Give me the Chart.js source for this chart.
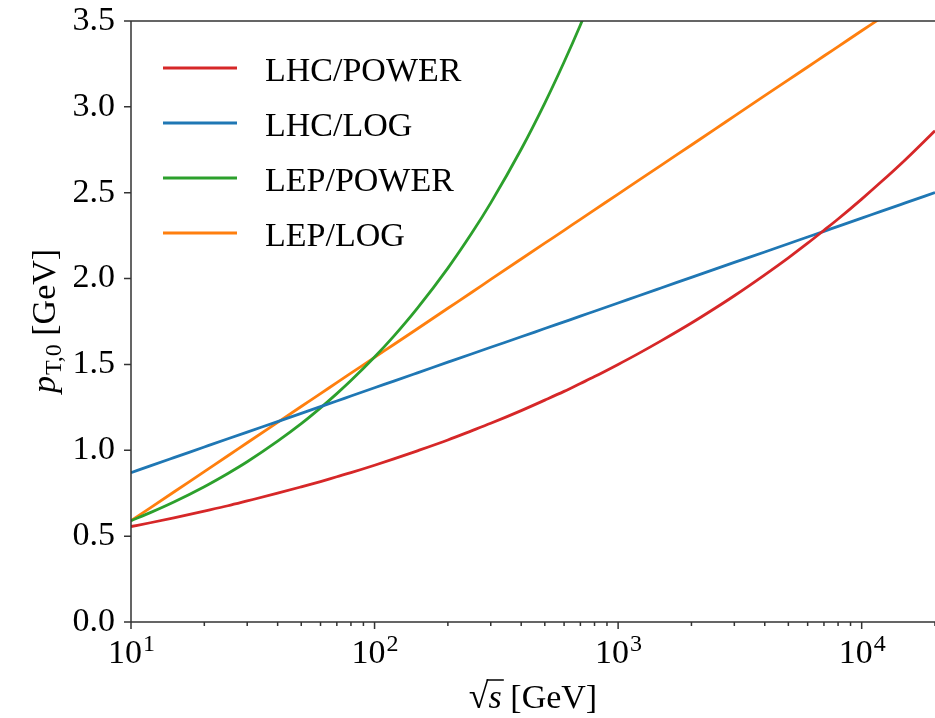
<!DOCTYPE html>
<html>
<head>
<meta charset="utf-8">
<script src="https://cdn.jsdelivr.net/npm/chart.js@4.4.1/dist/chart.umd.min.js"></script>
<style>
  html, body { margin: 0; padding: 0; background: #fff; }
</style>
</head>
<body>
<canvas id="myCanvas" width="935" height="718"></canvas>
<script>
// sqrt(s) in GeV
const energies = [10, 12, 15, 20, 25, 30, 40, 50, 60, 70, 80, 100, 120, 150, 200, 250, 300, 400, 500, 600, 700, 800,
  1000, 1200, 1500, 2000, 2500, 3000, 4000, 5000, 6000, 7000, 8000, 10000, 12000, 15000, 20000];
// p_T,0 in GeV
const lhcPower = [0.556, 0.578, 0.607, 0.646, 0.677, 0.705, 0.750, 0.787, 0.818, 0.846, 0.870, 0.913, 0.950, 0.997, 1.060, 1.113, 1.157, 1.231, 1.292, 1.343, 1.389, 1.429,
  1.500, 1.560, 1.637, 1.741, 1.827, 1.900, 2.022, 2.121, 2.206, 2.281, 2.347, 2.463, 2.562, 2.688, 2.861];
const lhcLog = [0.870, 0.909, 0.957, 1.019, 1.067, 1.106, 1.167, 1.215, 1.254, 1.287, 1.316, 1.364, 1.403, 1.451, 1.513, 1.561, 1.600, 1.661, 1.709, 1.748, 1.781, 1.810,
  1.858, 1.897, 1.945, 2.007, 2.055, 2.094, 2.155, 2.203, 2.242, 2.275, 2.304, 2.352, 2.391, 2.439, 2.501];
const lepPower = [0.590, 0.637, 0.699, 0.788, 0.865, 0.933, 1.053, 1.155, 1.247, 1.330, 1.406, 1.543, 1.665, 1.828, 2.061, 2.262, 2.441, 2.753, 3.022, 3.261, 3.477, 3.676];
const lepLog = [0.590, 0.665, 0.757, 0.876, 0.968, 1.044, 1.163, 1.255, 1.330, 1.394, 1.449, 1.541, 1.616, 1.708, 1.827, 1.919, 1.995, 2.114, 2.206, 2.281, 2.345, 2.400,
  2.492, 2.567, 2.659, 2.778, 2.870, 2.946, 3.065, 3.157, 3.232, 3.296, 3.351, 3.443, 3.518, 3.610, 3.729];

const seriesNames = ["LHC/POWER", "LHC/LOG", "LEP/POWER", "LEP/LOG"];
const seriesColors = ["#d62728", "#1f77b4", "#2ca02c", "#ff7f0e"];
const yTicks = [0, 0.5, 1, 1.5, 2, 2.5, 3, 3.5];
const xDecades = [10, 100, 1000, 10000];
const xMin = 10, xMax = 20000;

const serif = '"Liberation Serif", "DejaVu Serif", serif';

function pts(vals) {
  return vals.map((v, i) => ({ x: energies[i], y: v }));
}

// legend, spines, tick marks, x tick labels and axis titles
const decoPlugin = {
  id: 'deco',
  afterDraw(chart) {
    const ctx = chart.ctx, a = chart.chartArea;
    const xs = chart.scales.x, ys = chart.scales.y;
    ctx.save();
    ctx.strokeStyle = '#333';
    ctx.lineWidth = 1.5;
    ctx.beginPath();
    ctx.moveTo(a.left, a.top); ctx.lineTo(a.right, a.top);
    ctx.moveTo(a.left, a.top); ctx.lineTo(a.left, a.bottom);
    ctx.moveTo(a.left, a.bottom); ctx.lineTo(a.right, a.bottom);
    yTicks.forEach(v => {
      const py = ys.getPixelForValue(v);
      ctx.moveTo(a.left - 7, py); ctx.lineTo(a.left, py);
    });
    xDecades.forEach(d => {
      for (let m = 1; m <= 9; m++) {
        const v = d * m;
        if (v > xMax) break;
        const px = xs.getPixelForValue(v);
        ctx.moveTo(px, a.bottom); ctx.lineTo(px, a.bottom + (m === 1 ? 7 : 4));
      }
    });
    ctx.stroke();

    // x tick labels 10^n
    ctx.fillStyle = '#000';
    ctx.textBaseline = 'alphabetic';
    ctx.textAlign = 'left';
    xDecades.forEach(d => {
      const px = xs.getPixelForValue(d);
      const ex = String(Math.round(Math.log10(d)));
      ctx.font = '34px ' + serif;
      const w1 = ctx.measureText('10').width;
      ctx.font = '24px ' + serif;
      const w2 = ctx.measureText(ex).width;
      const x0 = px - (w1 + w2) / 2;
      ctx.font = '34px ' + serif;
      ctx.fillText('10', x0, 663);
      ctx.font = '24px ' + serif;
      ctx.fillText(ex, x0 + w1 + 1, 651);
    });

    // x axis title: sqrt(s) [GeV]
    const cx = (a.left + a.right) / 2;
    ctx.font = '36px ' + serif;
    const wr = ctx.measureText('\u221A').width;
    ctx.font = 'italic 34px ' + serif;
    const ws = ctx.measureText('s').width;
    ctx.font = '34px ' + serif;
    const wg = ctx.measureText(' [GeV]').width;
    let x0 = cx - (wr + ws + wg) / 2;
    const base = 708;
    ctx.font = '36px ' + serif;
    ctx.fillText('\u221A', x0, base);
    ctx.font = 'italic 34px ' + serif;
    ctx.fillText('s', x0 + wr, base);
    ctx.lineWidth = 1.5;
    ctx.strokeStyle = '#000';
    ctx.beginPath();
    ctx.moveTo(x0 + wr - 2, base - 28);
    ctx.lineTo(x0 + wr + ws + 2, base - 28);
    ctx.stroke();
    ctx.font = '34px ' + serif;
    ctx.fillText(' [GeV]', x0 + wr + ws, base);

    // y axis title: p_T,0 [GeV]
    ctx.save();
    ctx.translate(55, (a.top + a.bottom) / 2);
    ctx.rotate(-Math.PI / 2);
    ctx.font = 'italic 34px ' + serif;
    const wp = ctx.measureText('p').width;
    ctx.font = '24px ' + serif;
    const wsub = ctx.measureText('T,0').width;
    ctx.font = '34px ' + serif;
    const wu = ctx.measureText(' [GeV]').width;
    let t0 = -(wp + wsub + wu) / 2;
    ctx.font = 'italic 34px ' + serif;
    ctx.fillText('p', t0, 0);
    ctx.font = '24px ' + serif;
    ctx.fillText('T,0', t0 + wp + 1, 6);
    ctx.font = '34px ' + serif;
    ctx.fillText(' [GeV]', t0 + wp + wsub + 1, 0);
    ctx.restore();

    // legend
    chart.data.datasets.forEach((ds, i) => {
      const ly = a.top + 47 + 55 * i;
      ctx.strokeStyle = ds.borderColor;
      ctx.lineWidth = 2.8;
      ctx.beginPath();
      ctx.moveTo(a.left + 32, ly);
      ctx.lineTo(a.left + 106, ly);
      ctx.stroke();
      ctx.fillStyle = '#000';
      ctx.font = '34px ' + serif;
      ctx.fillText(ds.label, a.left + 134, ly + 13);
    });
    ctx.restore();
  }
};

const e = document.getElementById("myCanvas").getContext("2d");
new Chart(e, {
  type: "line",
  data: {
    datasets: [
      { label: seriesNames[0], data: pts(lhcPower), borderColor: seriesColors[0] },
      { label: seriesNames[1], data: pts(lhcLog), borderColor: seriesColors[1] },
      { label: seriesNames[2], data: pts(lepPower), borderColor: seriesColors[2] },
      { label: seriesNames[3], data: pts(lepLog), borderColor: seriesColors[3] }
    ]
  },
  options: {
    responsive: false,
    animation: false,
    elements: {
      line: { borderWidth: 2.8, cubicInterpolationMode: 'monotone', fill: false },
      point: { radius: 0, hoverRadius: 0 }
    },
    layout: { padding: { top: 21, right: 0, left: 0, bottom: 0 } },
    plugins: {
      legend: { display: false },
      tooltip: { enabled: false }
    },
    scales: {
      x: {
        type: "logarithmic",
        min: xMin,
        max: xMax,
        grid: { display: false },
        border: { display: false },
        ticks: { display: false },
        afterFit: s => { s.height = 96; s.paddingLeft = 0; s.paddingRight = 0; }
      },
      y: {
        type: "linear",
        min: 0,
        max: 3.5,
        grid: { display: false, drawTicks: false },
        border: { display: false },
        ticks: {
          stepSize: 0.5,
          padding: 16,
          color: '#000',
          font: { family: serif, size: 34 },
          callback: v => Number(v).toFixed(1)
        },
        afterFit: s => { s.width = 131; s.paddingTop = 0; s.paddingBottom = 0; }
      }
    }
  },
  plugins: [decoPlugin]
});
</script>
</body>
</html>
